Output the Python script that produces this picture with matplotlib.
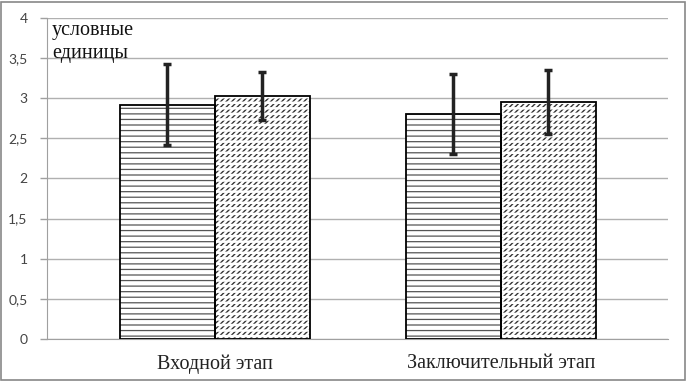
import numpy as np
import matplotlib.pyplot as plt
from matplotlib.patches import Rectangle

# === DATA ===
categories = ["Входной этап", "Заключительный этап"]
series1 = [2.92, 2.80]
series1_err = [0.50, 0.50]
series2 = [3.03, 2.95]
series2_err = [0.30, 0.40]
yticks = [0, 0.5, 1, 1.5, 2, 2.5, 3, 3.5, 4]
ytick_labels = ["0", "0,5", "1", "1,5", "2", "2,5", "3", "3,5", "4"]

plt.rcParams['font.family'] = ['Liberation Serif', 'DejaVu Serif']

fig = plt.figure(figsize=(6.87, 3.81), dpi=100)
ax = fig.add_axes([0.0684, 0.110, 0.9036, 0.843])

x = np.arange(len(categories))
w = 0.333

# horizontal-line fill for the first series
plt.rcParams['hatch.linewidth'] = 0.9
ax.bar(x - w / 2, series1, w, color='white', edgecolor='#555555', hatch='---', linewidth=0, zorder=2)
# dashed diagonal fill for the second series: diagonals broken by white rows
plt.rcParams['hatch.linewidth'] = 1.0
ax.bar(x + w / 2, series2, w, color='white', edgecolor='#333333', hatch='//////', linewidth=0, zorder=2)
plt.rcParams['hatch.linewidth'] = 1.8
ax.bar(x + w / 2, series2, w, fill=False, edgecolor='white', hatch='---', linewidth=0, zorder=2.5)

ax.bar(x - w / 2, series1, w, fill=False, edgecolor='black', linewidth=1.3, zorder=3)
ax.bar(x + w / 2, series2, w, fill=False, edgecolor='black', linewidth=1.3, zorder=3)

ax.errorbar(x - w / 2, series1, yerr=series1_err, fmt='none', ecolor='#222222',
            elinewidth=2.5, capsize=3, capthick=2.5, zorder=4)
ax.errorbar(x + w / 2, series2, yerr=series2_err, fmt='none', ecolor='#222222',
            elinewidth=2.5, capsize=3, capthick=2.5, zorder=4)

ax.set_xlim(-0.587, 1.584)
ax.set_ylim(0, 4)
ax.set_yticks(yticks)
ax.set_yticklabels(ytick_labels, fontsize=10, color='#444444', family=['Lato', 'DejaVu Sans'])
ax.set_xticks(x)
ax.set_xticklabels(categories, fontsize=14.5, color='#222222')
ax.tick_params(axis='y', length=5, width=1, color='#a0a0a0', pad=9)
ax.tick_params(axis='x', length=0, pad=11)
ax.yaxis.grid(True, color='#b0b0b0', linewidth=1)
ax.set_axisbelow(True)
for s in ['right', 'top']:
    ax.spines[s].set_visible(False)
ax.spines['bottom'].set_color('#a0a0a0')
ax.spines['left'].set_color('#a0a0a0')

ax.text(-0.570, 3.96, "условные\nединицы", fontsize=14.5, va='top', ha='left',
        linespacing=1.3, color='#111111')

# outer frame
fig.patches.append(Rectangle((0.002, 0.003), 0.995, 0.993, transform=fig.transFigure,
                             fill=False, edgecolor='#888888', linewidth=1.2))

fig.savefig("out.png", dpi=100)
